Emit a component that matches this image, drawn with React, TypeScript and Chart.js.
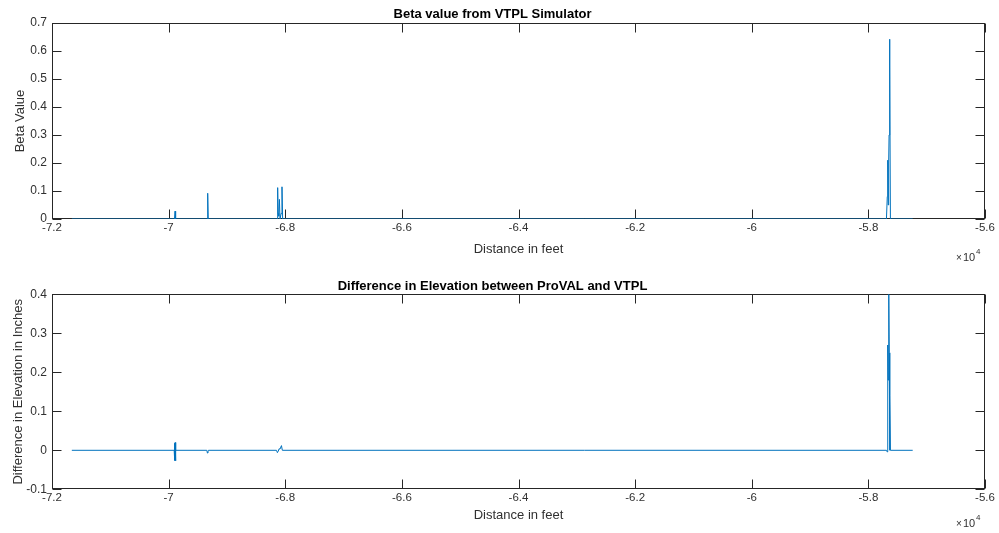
import React, { useEffect, useRef } from "react";
import { Chart, registerables } from "chart.js";

Chart.register(...registerables);

// ---- data (x in feet, y values) ----
const betaX = [-71660, -69900, -69890, -69880, -69340, -69330, -69320, -68140, -68130, -68122, -68112, -68100, -68090, -68070, -68056, -68045, -57690, -57676, -57668, -57660, -57652, -57645, -57638, -57630, -57622, -57240];
const betaY = [0, 0, 0.028, 0, 0, 0.092, 0, 0, 0.112, 0.02, 0.01, 0.07, 0, 0.02, 0.115, 0, 0, 0.08, 0.21, 0.05, 0.2, 0.3, 0.642, 0.55, 0, 0];

const diffX = [-71660, -69905, -69898, -69893, -69888, -69882, -69876, -69345, -69335, -69325, -69318, -68150, -68135, -68120, -68105, -68090, -68065, -68050, -57690, -57678, -57668, -57660, -57650, -57642, -57636, -57630, -57622, -57240];
const diffY = [0, 0, 0.018, -0.026, 0.02, -0.027, 0, 0, -0.007, -0.004, 0, 0, -0.006, -0.002, 0.004, 0.003, 0.012, 0, 0, -0.004, 0.27, 0.18, 0.4, 0.25, 0, 0.14, 0, 0];

const xMin = -72000;
const xMax = -56000;
const xStep = 2000;

const betaYTicks = { min: 0, max: 0.7, step: 0.1 };
const diffYTicks = { min: -0.1, max: 0.4, step: 0.1 };

const topTitle = "Beta value from VTPL Simulator";
const bottomTitle = "Difference in Elevation between ProVAL and VTPL";
const xLabel = "Distance in feet";
const topYLabel = "Beta Value";
const bottomYLabel = "Difference in Elevation in Inches";

const FONT = "'Liberation Sans', Arial, Helvetica, sans-serif";
const AXIS_COLOR = "#262626";
const TICK_TEXT = "#303030";
const LINE_COLOR = "#0072BD";

const boxPlugin = {
  id: "matlabBox",
  beforeDatasetsDraw(chart: any) {
    const { ctx, chartArea: a, scales } = chart;
    const l = Math.round(a.left) + 0.5;
    const r = Math.round(a.right) - 0.5;
    const t = Math.round(a.top) + 0.5;
    const b = Math.round(a.bottom) - 0.5;
    const tl = 9;
    ctx.save();
    ctx.strokeStyle = AXIS_COLOR;
    ctx.lineWidth = 1;
    ctx.strokeRect(l, t, r - l, b - t);
    ctx.beginPath();
    scales.x.ticks.forEach((tk: any) => {
      const px = Math.round(scales.x.getPixelForValue(tk.value)) + 0.5;
      ctx.moveTo(px, b);
      ctx.lineTo(px, b - tl);
      ctx.moveTo(px, t);
      ctx.lineTo(px, t + tl);
    });
    scales.y.ticks.forEach((tk: any) => {
      const py = Math.round(scales.y.getPixelForValue(tk.value)) + 0.5;
      ctx.moveTo(l, py);
      ctx.lineTo(l + tl, py);
      ctx.moveTo(r, py);
      ctx.lineTo(r - tl, py);
    });
    ctx.stroke();
    ctx.restore();
  },
  afterDraw(chart: any, _args: any, opts: any) {
    const { ctx } = chart;
    ctx.save();
    ctx.fillStyle = TICK_TEXT;
    ctx.textBaseline = "middle";
    ctx.textAlign = "left";
    const y = opts.expY;
    ctx.font = `10px ${FONT}`;
    ctx.fillText("\u00d7", 956, y);
    ctx.font = `11px ${FONT}`;
    ctx.fillText("10", 963, y);
    ctx.font = `8px ${FONT}`;
    ctx.fillText("4", 976, y - 6);
    ctx.restore();
  },
};

function fmt(v: number) {
  return String(Math.round(v * 10) / 10);
}

function makeConfig(
  xs: number[],
  ys: number[],
  yt: { min: number; max: number; step: number },
  title: string,
  yLabel: string,
  layout: { titleTop: number; titleBottom: number; xHeight: number; yTitlePad: number; xTitlePad: number; expY: number }
) {
  return {
    type: "line" as const,
    data: {
      datasets: [
        {
          data: xs.map((x, i) => ({ x, y: ys[i] })),
          borderColor: LINE_COLOR,
          borderWidth: 1,
          pointRadius: 0,
          tension: 0,
          fill: false,
        },
      ],
    },
    options: {
      responsive: false,
      animation: false as const,
      layout: { padding: { left: 0, right: 14, top: 0, bottom: 0 } },
      plugins: {
        legend: { display: false },
        tooltip: { enabled: false },
        title: {
          display: true,
          text: title,
          color: "#000",
          font: { family: FONT, size: 13, weight: "bold" as const, lineHeight: 1.2 },
          padding: { top: layout.titleTop, bottom: layout.titleBottom },
        },
        matlabBox: { expY: layout.expY },
      },
      scales: {
        x: {
          type: "linear" as const,
          min: xMin,
          max: xMax,
          grid: { display: false, drawTicks: false },
          border: { display: false },
          ticks: {
            stepSize: xStep,
            autoSkip: false,
            maxRotation: 0,
            padding: 2,
            color: TICK_TEXT,
            font: { family: FONT, size: 11.5 },
            callback: (v: any) => fmt(Number(v) / 10000),
          },
          title: {
            display: true,
            text: xLabel,
            color: TICK_TEXT,
            font: { family: FONT, size: 13, lineHeight: 1.2 },
            padding: { top: 0, bottom: layout.xTitlePad },
          },
          afterFit: (s: any) => {
            s.height = layout.xHeight;
          },
        },
        y: {
          type: "linear" as const,
          min: yt.min,
          max: yt.max,
          grid: { display: false, drawTicks: false },
          border: { display: false },
          ticks: {
            stepSize: yt.step,
            padding: 5,
            color: TICK_TEXT,
            font: { family: FONT, size: 12 },
            callback: (v: any) => fmt(Number(v)),
          },
          title: {
            display: true,
            text: yLabel,
            color: TICK_TEXT,
            font: { family: FONT, size: 13, lineHeight: 1.2 },
            padding: { top: layout.yTitlePad, bottom: 0 },
          },
          afterFit: (s: any) => {
            s.width = 52;
          },
        },
      },
    },
    plugins: [boxPlugin],
  };
}

function ChartCanvas(props: { height: number; config: any }) {
  const ref = useRef<HTMLCanvasElement | null>(null);
  useEffect(() => {
    if (!ref.current) return;
    const chart = new Chart(ref.current, props.config);
    return () => chart.destroy();
  }, []);
  return (
    <canvas
      ref={ref}
      width={999}
      height={props.height}
      style={{ display: "block", width: 999, height: props.height }}
    />
  );
}

export default function App() {
  const topCfg = makeConfig(betaX, betaY, betaYTicks, topTitle, topYLabel, {
    titleTop: 6.5,
    titleBottom: 0.9,
    xHeight: 47,
    yTitlePad: 12.7,
    xTitlePad: 9.2,
    expY: 258,
  });
  const botCfg = makeConfig(diffX, diffY, diffYTicks, bottomTitle, bottomYLabel, {
    titleTop: 12.7,
    titleBottom: 0,
    xHeight: 43.7,
    yTitlePad: 11,
    xTitlePad: 9.7,
    expY: 258,
  });
  return (
    <div style={{ position: "fixed", left: 0, top: 0, width: 999, height: 533, background: "#fff" }}>
      <ChartCanvas height={266} config={topCfg} />
      <ChartCanvas height={267} config={botCfg} />
    </div>
  );
}
